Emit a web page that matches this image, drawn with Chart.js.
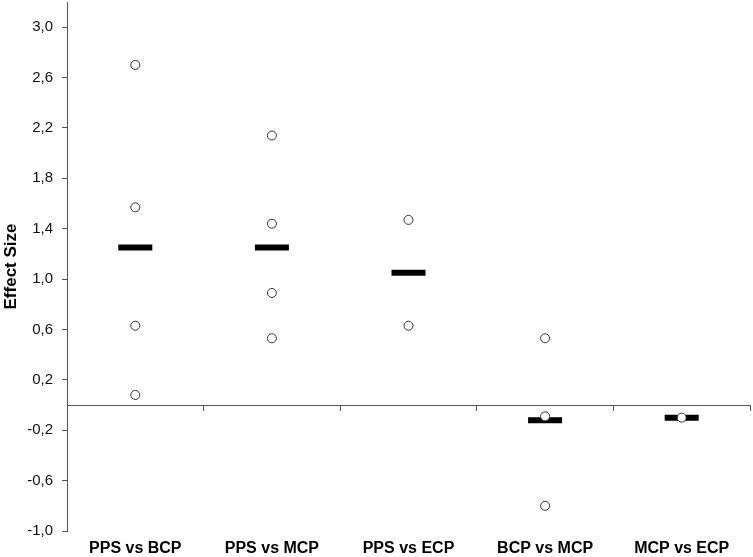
<!DOCTYPE html>
<html>
<head>
<meta charset="utf-8">
<script src="https://cdn.jsdelivr.net/npm/chart.js@4.4.0/dist/chart.umd.min.js"></script>
<style>
  html, body { margin: 0; padding: 0; background: #fff; }
  #wrap { width: 753px; height: 557px; }
</style>
</head>
<body>
<div id="wrap"><canvas id="chart"></canvas></div>
<script>
// comparisons on the x axis
const categories = ['PPS vs BCP', 'PPS vs MCP', 'PPS vs ECP', 'BCP vs MCP', 'MCP vs ECP'];

// single study effect sizes (open circles), per comparison
const studyEffects = [
  [2.70, 1.57, 0.63, 0.08],
  [2.14, 1.44, 0.89, 0.53],
  [1.47, 0.63],
  [0.53, -0.09, -0.80],
  [-0.10]
];

// pooled effect size (black bar), per comparison
const meanEffects = [1.25, 1.25, 1.05, -0.12, -0.10];

// y tick labels
const yTicks = [-1.0, -0.6, -0.2, 0.2, 0.6, 1.0, 1.4, 1.8, 2.2, 2.6, 3.0];

const studyPoints = [];
categories.forEach((cat, i) => {
  studyEffects[i].forEach(v => studyPoints.push({ x: cat, y: v }));
});
const meanPoints = categories.map((cat, i) => ({ x: cat, y: meanEffects[i] }));

const fontFamily = '"Liberation Sans", Arial, sans-serif';
const axisGrey = '#555';

const ctx = document.getElementById('chart').getContext('2d');

// eslint-disable-next-line no-undef
new Chart(ctx, {
  type: 'line',
  data: {
    labels: categories,
    datasets: [
      {
        label: 'Studies',
        data: studyPoints,
        showLine: false,
        pointStyle: 'circle',
        pointRadius: 4.5,
        pointBorderWidth: 1,
        pointBorderColor: '#333',
        pointBackgroundColor: '#fff',
        xAxisID: 'x',
      },
      {
        label: 'Mean',
        data: meanPoints,
        showLine: false,
        pointStyle: 'line',
        pointRadius: 17,
        pointBorderWidth: 6,
        pointBorderColor: '#000',
        pointBackgroundColor: '#000',
        xAxisID: 'x',
      }
    ],
  },
  options: {
    responsive: true,
    maintainAspectRatio: false,
    animation: false,
    layout: { autoPadding: false, padding: { top: 2, right: 3, bottom: 0, left: 0 } },
    plugins: {
      legend: { display: false },
      tooltip: { enabled: false }
    },
    scales: {
      x: {
        type: 'category',
        position: 'bottom',
        offset: true,
        grid: { display: false, drawTicks: false },
        border: { display: false },
        ticks: {
          padding: 8,
          maxRotation: 0,
          autoSkip: false,
          color: '#000',
          font: { family: fontFamily, size: 16, weight: 'bold' }
        },
        afterFit: (scale) => { scale.height = 26; }
      },
      x2: {
        type: 'category',
        labels: categories,
        position: { y: 0 },
        offset: true,
        grid: {
          display: true,
          offset: true,
          drawOnChartArea: false,
          drawTicks: true,
          tickLength: 5,
          color: axisGrey
        },
        border: { display: true, color: axisGrey, width: 1 },
        ticks: { display: false },
        afterFit: (scale) => { scale.height = 0; }
      },
      y: {
        min: -1,
        max: 3.2,
        grid: {
          display: true,
          drawOnChartArea: false,
          drawTicks: true,
          tickLength: 5,
          color: axisGrey
        },
        border: { display: true, color: axisGrey, width: 1 },
        afterBuildTicks: (scale) => {
          scale.ticks = yTicks.map(v => ({ value: v }));
        },
        ticks: {
          padding: 9,
          color: '#111',
          font: { family: fontFamily, size: 15 },
          callback: (v) => v.toFixed(1).replace('.', ',')
        },
        title: {
          display: true,
          text: 'Effect Size',
          color: '#000',
          padding: { top: 1, bottom: 0 },
          font: { family: fontFamily, size: 17, weight: 'bold' }
        },
        afterFit: (scale) => {
          scale.width = 67;
          // the top tick sits well below max, no room needed for its label
          scale.paddingTop = 0;
          scale.paddingBottom = 0;
        }
      }
    }
  }
});
</script>
</body>
</html>
